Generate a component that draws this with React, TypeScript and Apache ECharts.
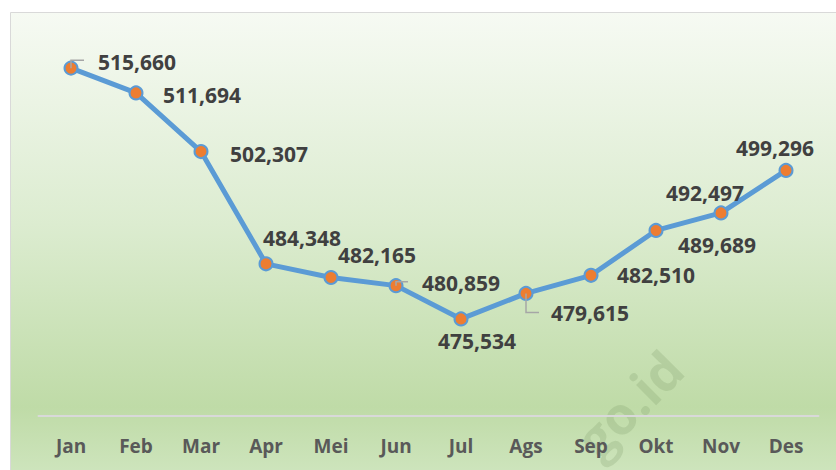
import React, { useEffect, useRef } from "react";
import * as echarts from "echarts";

const months = ["Jan", "Feb", "Mar", "Apr", "Mei", "Jun", "Jul", "Ags", "Sep", "Okt", "Nov", "Des"];
const values = [515660, 511694, 502307, 484348, 482165, 480859, 475534, 479615, 482510, 489689, 492497, 499296];
const labelOffsets: [number, number][] = [
  [66, -6], [66, 2], [68, 2], [36, -26], [46, -22], [65, -3],
  [16, 22], [64, 20], [65, 0], [61, 15], [-16, -20], [-11, -22],
];
const leaderIdx = [0, 5, 7];
const leaderShape: Record<number, [number, number, number]> = { 0: [0, -8, 13], 5: [0, -4, 12], 7: [0, 19, 13] };

const fmt = (v: number) => v.toLocaleString("en-US");

export default function App() {
  const ref = useRef<HTMLDivElement>(null);
  useEffect(() => {
    document.body.style.margin = "0";
    const chart = echarts.init(ref.current!, null, { renderer: "svg" });
    const bg = {
      type: "rect",
      z: -10,
      silent: true,
      shape: { x: 10.5, y: 12.5, width: 840, height: 470 },
      style: {
        fill: new echarts.graphic.LinearGradient(0, 0, 0, 1, [
          { offset: 0, color: "#f6faf3" },
          { offset: 0.45, color: "#dcecd0" },
          { offset: 0.84, color: "#bfdba7" },
          { offset: 1, color: "#d0e6c0" },
        ]),
        stroke: "#d9d9d9",
        lineWidth: 1,
      },
    };
    const watermark = {
      type: "text",
      z: -5,
      silent: true,
      x: 603,
      y: 466,
      rotation: Math.PI / 4,
      style: {
        text: "go.id",
        font: "bold 52px 'Open Sans'",
        fill: "rgba(110,140,90,0.2)",
        textAlign: "left",
        textVerticalAlign: "bottom",
      },
    };
    const option: any = {
      animation: false,
      grid: { left: 38.5, right: 17.5, top: 41, bottom: 54, containLabel: false },
      xAxis: {
        type: "category",
        data: months,
        boundaryGap: true,
        axisLine: { lineStyle: { color: "#d9d9d9", width: 2 } },
        axisTick: { show: false },
        axisLabel: {
          margin: 20,
          color: "#595959",
          fontFamily: "Open Sans",
          fontWeight: "bold",
          fontSize: 19,
        },
      },
      yAxis: {
        type: "value",
        min: 460000,
        max: 520000,
        show: false,
        splitLine: { show: false },
      },
      graphic: [bg, watermark],
      series: [
        {
          type: "line",
          data: values.map((v, i) => ({
            value: v,
            label: { offset: labelOffsets[i] },
          })),
          z: 3,
          lineStyle: { color: "#5b9bd5", width: 5 },
          symbol: "circle",
          symbolSize: 13,
          itemStyle: { color: "#ed7d31", borderColor: "#5b9bd5", borderWidth: 2 },
          label: {
            show: true,
            position: "inside",
            formatter: (p: any) => fmt(p.value),
            color: "#404040",
            fontFamily: "Open Sans",
            fontWeight: "bold",
            fontSize: 21,
          },
        },
      ],
    };
    chart.setOption(option);
    const leaders = leaderIdx.map((i) => {
      const p = chart.convertToPixel({ seriesIndex: 0 }, [i, values[i]]) as number[];
      const [, dy, len] = leaderShape[i];
      return {
        type: "polyline",
        z: 10,
        silent: true,
        shape: { points: [[p[0], p[1]], [p[0], p[1] + dy], [p[0] + len, p[1] + dy]] },
        style: { stroke: "#a6a6a6", lineWidth: 1.5, fill: null },
      };
    });
    chart.setOption({ graphic: [bg, watermark, ...leaders] });
    return () => chart.dispose();
  }, []);
  return <div ref={ref} style={{ position: "absolute", left: 0, top: 0, width: 836, height: 470 }} />;
}
